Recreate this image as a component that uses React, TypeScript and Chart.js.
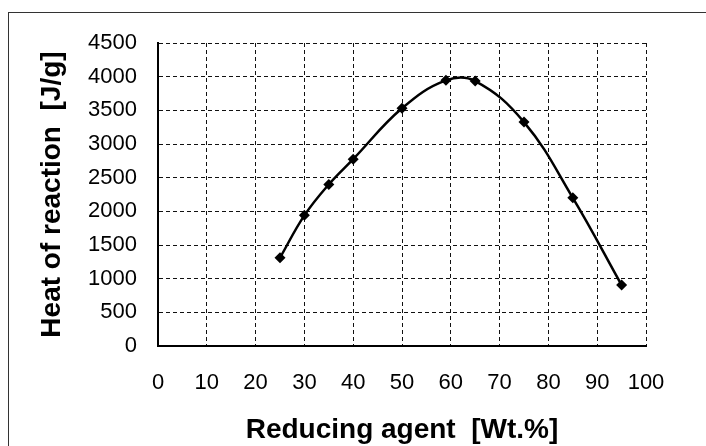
import React, { useEffect, useRef } from "react";
import { Chart, registerables } from "chart.js";

Chart.register(...registerables);

const reducingAgent = [25, 30, 35, 40, 50, 59, 65, 75, 85, 95];
const heatOfReaction = [1310, 1940, 2400, 2775, 3530, 3945, 3935, 3325, 2200, 905];
const xTitle = "Reducing agent  [Wt.%]";
const yTitle = "Heat of reaction  [J/g]";

export default function App() {
  const ref = useRef<HTMLCanvasElement>(null);
  useEffect(() => {
    const canvas = ref.current!;
    const font = "'Liberation Sans', Arial, sans-serif";
    const chart = new Chart(canvas, {
      type: "line",
      data: {
        datasets: [
          {
            data: reducingAgent.map((x, i) => ({ x, y: heatOfReaction[i] })),
            borderColor: "#000",
            backgroundColor: "#000",
            borderWidth: 2.5,
            pointStyle: "rectRot",
            pointRadius: 5.5,
            pointBorderWidth: 0,
            tension: 0.4,
          },
        ],
      },
      options: {
        animation: false,
        responsive: false,
        plugins: { legend: { display: false }, tooltip: { enabled: false } },
        layout: { padding: { left: 0, top: 43, right: 60, bottom: 0 } },
        scales: {
          x: {
            type: "linear",
            min: 0,
            max: 100,
            afterFit: (s: any) => { s.height = 100; },
            ticks: {
              stepSize: 10,
              color: "#000",
              font: { family: font, size: 22 },
              padding: 24,
              callback: (v: any) => String(v),
            },
            border: { display: true, color: "#000", width: 2, dash: [4, 3] },
            grid: { color: "#111", lineWidth: 1, drawTicks: false, tickLength: 0 },
            title: {
              display: true,
              text: xTitle,
              color: "#000",
              font: { family: font, size: 28, weight: "bold", lineHeight: 1 },
              padding: { top: 0, bottom: 2 },
            },
          },
          y: {
            min: 0,
            max: 4500,
            afterFit: (s: any) => { s.width = 158; },
            ticks: {
              stepSize: 500,
              color: "#000",
              font: { family: font, size: 22 },
              padding: 21,
              callback: (v: any) => String(v),
            },
            border: { display: true, color: "#000", width: 2, dash: [4, 3] },
            grid: { color: "#111", lineWidth: 1, drawTicks: false, tickLength: 0 },
            title: {
              display: true,
              text: yTitle,
              color: "#000",
              font: { family: font, size: 28, weight: "bold", lineHeight: 1 },
              padding: { top: 38, bottom: 0 },
            },
          },
        },
      },
    } as any);
    return () => chart.destroy();
  }, []);
  return (
    <div style={{ position: "fixed", left: 0, top: 0, width: 706, height: 446, overflow: "hidden", background: "#fff" }}>
      <div
        style={{
          position: "absolute",
          left: 8,
          top: 12,
          right: -10,
          bottom: -10,
          borderLeft: "1px solid #333",
          borderTop: "1px solid #333",
        }}
      />
      <canvas ref={ref} width={706} height={446} style={{ position: "absolute", left: 0, top: 0 }} />
    </div>
  );
}
